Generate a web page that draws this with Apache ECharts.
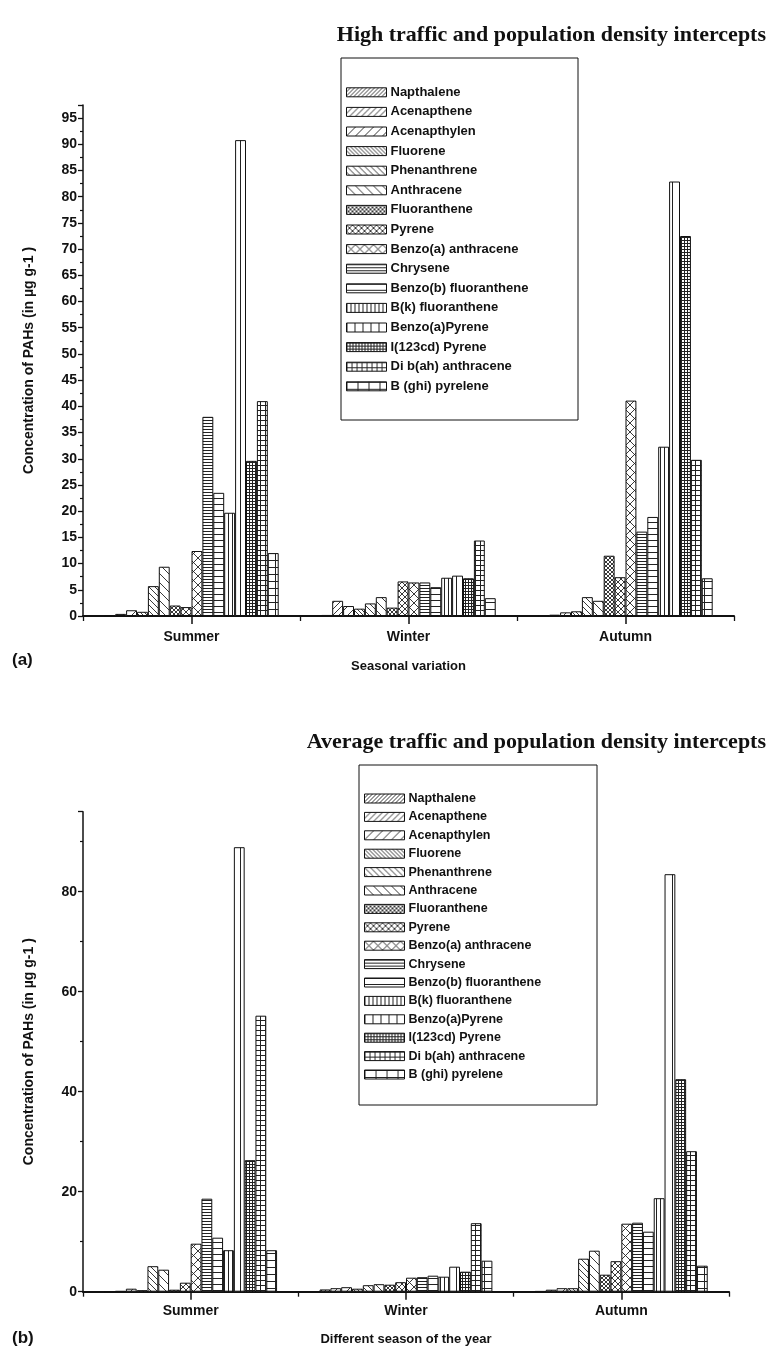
<!DOCTYPE html>
<html>
<head>
<meta charset="utf-8">
<script src="https://cdn.jsdelivr.net/npm/echarts@6/dist/echarts.min.js"></script>
<style>
html,body{margin:0;padding:0;background:#fff;}
#chart{width:771px;height:1348px;}
</style>
</head>
<body>
<div id="chart"></div>
<script>
// ---------- DATA ----------
const categories = ['Summer', 'Winter', 'Autumn'];
const compounds = ['Napthalene', 'Acenapthene', 'Acenapthylen', 'Fluorene', 'Phenanthrene', 'Anthracene',
  'Fluoranthene', 'Pyrene', 'Benzo(a) anthracene', 'Chrysene', 'Benzo(b) fluoranthene', 'B(k) fluoranthene',
  'Benzo(a)Pyrene', 'I(123cd) Pyrene', 'Di b(ah) anthracene', 'B (ghi) pyrelene'];
// (a) High traffic and population density
const highSummer = [0.05, 0.4, 1.1, 0.8, 5.7, 9.4, 2.0, 1.7, 12.4, 38.0, 23.5, 19.7, 90.8, 29.6, 41.0, 12.0];
const highWinter = [0.2, 2.9, 1.9, 1.4, 2.4, 3.6, 1.6, 6.6, 6.4, 6.4, 5.5, 7.3, 7.7, 7.2, 14.4, 3.4];
const highAutumn = [0.1, 0.25, 0.7, 0.9, 3.6, 2.9, 11.5, 7.4, 41.1, 16.1, 18.9, 32.3, 82.9, 72.5, 29.8, 7.2];
// (b) Average traffic and population density
const avgSummer = [0.05, 0.13, 0.6, 0.3, 5.1, 4.4, 0.4, 1.8, 9.6, 18.6, 10.8, 8.3, 88.9, 26.3, 55.2, 8.3];
const avgWinter = [0.45, 0.7, 0.9, 0.6, 1.3, 1.5, 1.4, 1.9, 2.8, 2.9, 3.2, 3.0, 5.0, 4.0, 13.7, 6.2];
const avgAutumn = [0.1, 0.4, 0.7, 0.7, 6.6, 8.2, 3.4, 6.1, 13.6, 13.8, 12.0, 18.7, 83.5, 42.5, 28.1, 5.2];

// ---------- PATTERNS ----------
function makePattern(kind, s, s2) {
  const w = kind === 'brick' ? s2 : s, h = s;
  const c = document.createElement('canvas');
  c.width = w; c.height = h;
  const g = c.getContext('2d');
  g.fillStyle = '#fff'; g.fillRect(0, 0, w, h);
  g.strokeStyle = '#222'; g.fillStyle = '#222'; g.lineWidth = 0.9;
  function fwd() { g.beginPath(); g.moveTo(-1, s + 1); g.lineTo(s + 1, -1); g.moveTo(-2, 2); g.lineTo(2, -2); g.moveTo(s - 2, s + 2); g.lineTo(s + 2, s - 2); g.stroke(); }
  function bwd() { g.beginPath(); g.moveTo(-1, -1); g.lineTo(s + 1, s + 1); g.moveTo(-2, s - 2); g.lineTo(2, s + 2); g.moveTo(s - 2, -2); g.lineTo(s + 2, 2); g.stroke(); }
  if (kind === 'fwd') fwd();
  else if (kind === 'bwd') bwd();
  else if (kind === 'cross') { fwd(); bwd(); }
  else if (kind === 'h') g.fillRect(0, 0, w, 1);
  else if (kind === 'v') g.fillRect(0, 0, 1, h);
  else if (kind === 'grid' || kind === 'brick') { g.fillRect(0, 0, w, 1); g.fillRect(0, 0, 1, h); }
  return { image: c, repeat: 'repeat' };
}
const patternSpec = [
  ['fwd', 4], ['fwd', 6], ['fwd', 9],
  ['bwd', 4], ['bwd', 6], ['bwd', 9],
  ['cross', 4], ['cross', 6], ['cross', 9],
  ['h', 3], ['h', 6],
  ['v', 4], ['v', 8],
  ['grid', 3], ['grid', 5],
  ['brick', 7, 11]
];
const patterns = patternSpec.map(p => makePattern(p[0], p[1], p[2]));

// ---------- CHART ----------
const FONT = '"Liberation Sans", Arial, Helvetica, sans-serif';
const chart = echarts.init(document.getElementById('chart'), null, { renderer: 'canvas' });

function yAxisCfg(gridIndex, max, interval, name, nameGap) {
  return {
    type: 'value', gridIndex, min: 0, max, interval,
    name, nameLocation: 'middle', nameGap,
    nameTextStyle: { fontFamily: FONT, fontWeight: 'bold', fontSize: 14, color: '#111' },
    axisLine: { show: true, lineStyle: { color: '#111', width: 1.5 } },
    axisTick: { show: true, inside: false, length: 5, lineStyle: { color: '#111', width: 1.3 } },
    minorTick: { show: true, splitNumber: 2, length: 3, lineStyle: { color: '#111', width: 1.2 } },
    splitLine: { show: false },
    axisLabel: {
      fontFamily: FONT, fontWeight: 'bold', fontSize: 14, color: '#111', margin: 6,
      formatter: v => (Math.abs(v / interval - Math.round(v / interval)) < 1e-6 ? String(v) : '')
    }
  };
}
function xAxisMain(gridIndex, name, nameGap, labelMargin) {
  return {
    type: 'category', gridIndex, data: categories, position: 'bottom',
    name, nameLocation: 'middle', nameGap,
    nameTextStyle: { fontFamily: FONT, fontWeight: 'bold', fontSize: 13, color: '#111' },
    axisLine: { show: true, onZero: false, lineStyle: { color: '#111', width: 2 } },
    axisTick: { show: true, alignWithLabel: true, length: 8, lineStyle: { color: '#111', width: 1.5 } },
    axisLabel: { fontFamily: FONT, fontWeight: 'bold', fontSize: 14, color: '#111', margin: labelMargin },
    splitLine: { show: false }
  };
}
function xAxisBoundary(gridIndex) {
  return {
    type: 'category', gridIndex, data: categories, position: 'bottom',
    axisLine: { show: false },
    axisTick: { show: true, alignWithLabel: false, length: 5, lineStyle: { color: '#111', width: 1.3 } },
    axisLabel: { show: false }, splitLine: { show: false }
  };
}

const series = [];
compounds.forEach((name, i) => {
  series.push({
    type: 'bar', name, xAxisIndex: 0, yAxisIndex: 0,
    data: [highSummer[i], highWinter[i], highAutumn[i]],
    barWidth: 10.9, barGap: '0%',
    itemStyle: { color: patterns[i], borderColor: '#111', borderWidth: 1 },
    emphasis: { disabled: true }, silent: true
  });
});
compounds.forEach((name, i) => {
  series.push({
    type: 'bar', name, xAxisIndex: 2, yAxisIndex: 1,
    data: [avgSummer[i], avgWinter[i], avgAutumn[i]],
    barWidth: 10.8, barGap: '0%',
    itemStyle: { color: patterns[i], borderColor: '#111', borderWidth: 1 },
    emphasis: { disabled: true }, silent: true
  });
});

function legendCfg(left, top, fontSize, lineHeight, gap) {
  return {
    data: compounds, orient: 'vertical', left, top, padding: 0,
    itemWidth: 40, itemHeight: 9, itemGap: gap, icon: 'rect', selectedMode: false,
    itemStyle: { borderColor: '#111', borderWidth: 1 },
    textStyle: { fontFamily: FONT, fontWeight: 'bold', fontSize, lineHeight, color: '#111', padding: [0, 0, 0, -1] }
  };
}

const option = {
  animation: false,
  backgroundColor: '#fff',
  grid: [
    { left: 83, top: 105, width: 651, height: 511, containLabel: false },
    { left: 83, top: 811.7, width: 646, height: 480, containLabel: false }
  ],
  xAxis: [
    xAxisMain(0, 'Seasonal variation', 44, 14),
    xAxisBoundary(0),
    xAxisMain(1, 'Different season of the year', 41, 12),
    xAxisBoundary(1)
  ],
  yAxis: [
    yAxisCfg(0, 97.5, 5, 'Concentration of PAHs (in µg g-1 )', 47),
    yAxisCfg(1, 96, 20, 'Concentration of PAHs (in µg g-1 )', 47)
  ],
  legend: [
    legendCfg(346, 85.3, 13, 14, 5.6),
    legendCfg(364, 792, 12.5, 13, 5.4)
  ],
  graphic: [
    { type: 'rect', shape: { x: 341, y: 58, width: 237, height: 362 }, style: { fill: 'none', stroke: '#111', lineWidth: 1 }, silent: true },
    { type: 'rect', shape: { x: 359, y: 765, width: 238, height: 340 }, style: { fill: 'none', stroke: '#111', lineWidth: 1 }, silent: true },
    { type: 'text', x: 766, y: 35, style: { text: 'High traffic and population density intercepts', font: 'bold 22px "Liberation Serif", "Times New Roman", serif', fill: '#111', textAlign: 'right', textVerticalAlign: 'middle' }, silent: true },
    { type: 'text', x: 766, y: 742, style: { text: 'Average traffic and population density intercepts', font: 'bold 22px "Liberation Serif", "Times New Roman", serif', fill: '#111', textAlign: 'right', textVerticalAlign: 'middle' }, silent: true },
    { type: 'text', x: 12, y: 660, style: { text: '(a)', font: 'bold 17px ' + FONT, fill: '#111', textVerticalAlign: 'middle' }, silent: true },
    { type: 'text', x: 12, y: 1338, style: { text: '(b)', font: 'bold 17px ' + FONT, fill: '#111', textVerticalAlign: 'middle' }, silent: true }
  ],
  series
};
chart.setOption(option);
</script>
</body>
</html>
